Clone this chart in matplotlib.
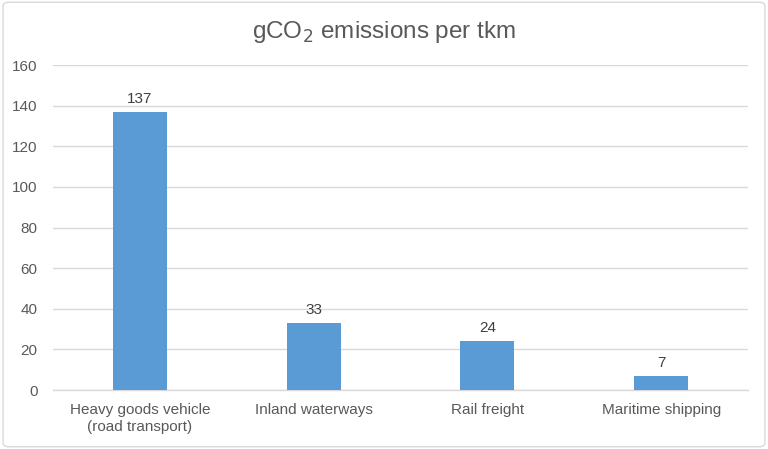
import matplotlib
matplotlib.use("Agg")
import matplotlib.pyplot as plt
from matplotlib.patches import FancyBboxPatch

categories = ["Heavy goods vehicle\n(road transport)", "Inland waterways", "Rail freight", "Maritime shipping"]
values = [137, 33, 24, 7]
yticks = [0, 20, 40, 60, 80, 100, 120, 140, 160]

plt.rcParams['font.family'] = ['Liberation Sans', 'DejaVu Sans']

fig = plt.figure(figsize=(7.68, 4.49), dpi=100)
ax = fig.add_axes([0.069, 0.1314, 0.905, 0.7236])

x = list(range(len(categories)))
ax.bar(x, values, width=0.31, color="#5B9BD5", zorder=3)
for xi, v in zip(x, values):
    ax.text(xi, v + 3, str(v), ha="center", va="bottom", fontsize=11, color="#404040")

ax.set_xlim(-0.5, len(categories) - 0.5)
ax.set_ylim(0, 160)
ax.set_yticks(yticks)
ax.set_yticklabels([str(t) for t in yticks])
ax.set_xticks(x)
ax.set_xticklabels(categories, linespacing=1.35)
ax.tick_params(axis="both", length=0, labelsize=11, labelcolor="#595959")
ax.tick_params(axis="y", pad=11)
ax.tick_params(axis="x", pad=9)
ax.grid(axis="y", color="#D9D9D9", linewidth=1, zorder=0)
for s in ["top", "right", "left"]:
    ax.spines[s].set_visible(False)
ax.spines["bottom"].set_color("#D9D9D9")
ax.spines["bottom"].set_linewidth(1)

fig.text(0.5, 0.928, r"gCO$_2$ emissions per tkm", ha="center", va="center",
         fontsize=17.5, color="#595959")

border = FancyBboxPatch((0.004, 0.005), 0.992, 0.99, boxstyle="round,pad=0,rounding_size=0.008",
                        transform=fig.transFigure, fill=False, edgecolor="#D9D9D9", linewidth=1)
fig.patches.append(border)

fig.savefig("out.png", dpi=100)
